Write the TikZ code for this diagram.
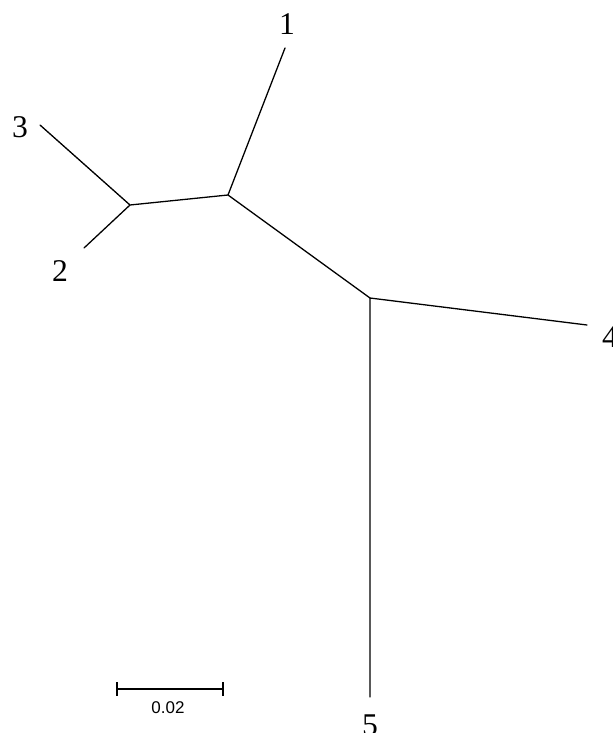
\documentclass[tikz,border=0pt]{standalone}
\usepackage{fontspec}
\setmainfont{Liberation Serif}
\setsansfont{Liberation Sans}
\usepackage{tikz}
\usetikzlibrary{calc}
\tikzset{
branch/.style={line width=1.1pt, line cap=round}, % the edges of the tree
tip/.style={font=\fontsize{27}{30}\selectfont, inner sep=0pt}, % taxon labels
scalelabel/.style={font=\sffamily\fontsize{14.5}{16}\selectfont, inner sep=0pt}, % text under the scale bar
}

\begin{document}
\begin{tikzpicture}[x=0.03cm, y=-0.03cm]
                \useasboundingbox (0,0) rectangle (612,733);
                % inner nodes
                \coordinate (n1) at (130,205);
                \coordinate (n2) at (228,195);
                \coordinate (n3) at (370,298);
                % branch ends
                \coordinate (e1) at (285,48);
                \coordinate (e2) at (84,248);
                \coordinate (e3) at (40,125);
                \coordinate (e4) at (587,325);
                \coordinate (e5) at (370,697);
                % labels
                \node[tip] (t1) at (287,24) {1};
                \node[tip] (t2) at (60,271) {2};
                \node[tip] (t3) at (20,127) {3};
                \node[tip] (t4) at (610,337) {4};
                \node[tip] (t5) at (370,725) {5};
                \draw[branch]
                    (n1) -- (e3)
                    (n1) -- (e2)
                    (n1) -- (n2)
                    (n2) -- (e1)
                    (n2) -- (n3)
                    (n3) -- (e4)
                    (n3) -- (e5)
                    ;
                % scale bar
                \coordinate (s1) at (117,689);
                \coordinate (s2) at (223,689);
                \draw[branch, line cap=butt] (s1) -- (s2)
                    ($(s1)+(0,-7)$) -- ($(s1)+(0,7)$)
                    ($(s2)+(0,-7)$) -- ($(s2)+(0,7)$);
                \node[scalelabel] (sl) at (168,708) {0.02};
                \end{tikzpicture}
\end{document}
